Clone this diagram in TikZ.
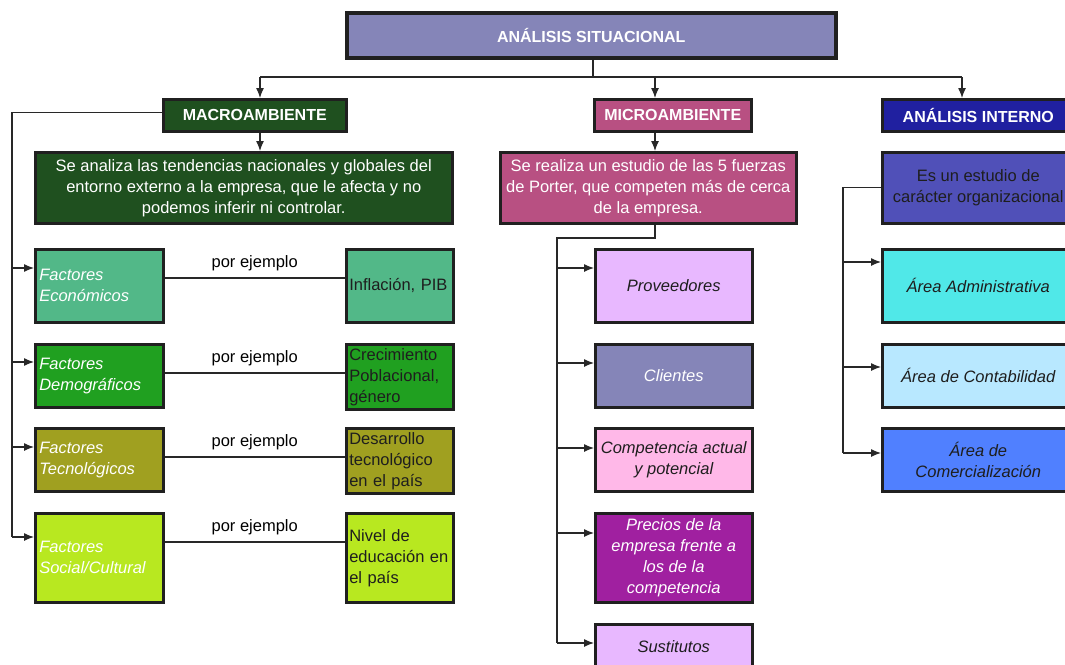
\documentclass[tikz,border=0pt]{standalone}
\usepackage{fontspec}
\setmainfont{Liberation Sans}
\usetikzlibrary{arrows.meta}
\definecolor{cEdge}{RGB}{32,32,32}
\definecolor{cLine}{RGB}{40,40,40}
\definecolor{cDark}{RGB}{30,30,30}
\definecolor{cTitle}{RGB}{133,133,184}
\definecolor{cMacro}{RGB}{31,80,31}
\definecolor{cMicro}{RGB}{184,80,130}
\definecolor{cInt}{RGB}{32,32,160}
\definecolor{cIdesc}{RGB}{80,80,184}
\definecolor{cEco}{RGB}{82,184,136}
\definecolor{cDem}{RGB}{32,160,32}
\definecolor{cTec}{RGB}{160,160,32}
\definecolor{cSoc}{RGB}{184,232,32}
\definecolor{cProv}{RGB}{232,184,255}
\definecolor{cComp}{RGB}{255,184,232}
\definecolor{cPrec}{RGB}{160,32,160}
\definecolor{cAdm}{RGB}{80,232,232}
\definecolor{cCont}{RGB}{184,232,255}
\definecolor{cComer}{RGB}{80,128,255}
\begin{document}
\begin{tikzpicture}[x=1pt,y=-1pt,>={Latex[length=10pt,width=8pt]},
  txt/.style={font=\fontsize{16.5}{21}\selectfont},
  box/.style={draw=cEdge,line width=2.5pt,inner sep=4pt,anchor=north west,txt},
  head/.style={box,text=white,font=\bfseries\fontsize{16}{21}\selectfont},
  it/.style={font=\itshape\fontsize{16.5}{21}\selectfont},
  fac/.style={box,it,text=white,text width=120pt,align=left},
  ej/.style={box,text=cDark,inner xsep=3pt,text width=101pt,align=left},
  conn/.style={draw=cLine,line width=1.2pt},
  arr/.style={conn,->}]
\useasboundingbox (0,0) rectangle (1065,664);

\node[head,fill=cTitle,line width=3.5pt,minimum width=489pt,minimum height=45pt] (sit) at (345,11) {ANÁLISIS SITUACIONAL};
\node[head,fill=cMacro,minimum width=183pt,minimum height=32pt] (macro) at (162,98) {MACROAMBIENTE};
\node[head,fill=cMicro,minimum width=157pt,minimum height=32pt] (micro) at (593,98) {MICROAMBIENTE};
\node[head,fill=cInt,minimum width=192pt,minimum height=32pt] (interno) at (881,98) {ANÁLISIS INTERNO};

\node[box,fill=cMacro,text=white,minimum width=417pt,minimum height=71pt,align=center] (mdesc) at (34,151)
  {Se analiza las tendencias nacionales y globales del\\entorno externo a la empresa, que le afecta y no\\podemos inferir ni controlar.};
\node[box,fill=cMicro,text=white,minimum width=296pt,minimum height=71pt,align=center] (cdesc) at (499,151)
  {Se realiza un estudio de las 5 fuerzas\\de Porter, que competen más de cerca\\de la empresa.};
\node[box,fill=cIdesc,text=cDark,minimum width=192pt,minimum height=71pt,align=center] (idesc) at (881,151)
  {Es un estudio de\\carácter organizacional};

% macroambiente
\node[fac,fill=cEco,minimum height=73pt] (feco) at (34,248) {Factores\\Económicos};
\node[fac,fill=cDem,minimum height=63pt] (fdem) at (34,343) {Factores\\Demográficos};
\node[fac,fill=cTec,minimum height=63pt] (ftec) at (34,427) {Factores\\Tecnológicos};
\node[fac,fill=cSoc,minimum height=89pt] (fsoc) at (34,512) {Factores\\Social/Cultural};
\node[ej,fill=cEco,minimum height=73pt] (xeco) at (345,248) {Inflación, PIB};
\node[ej,fill=cDem,minimum height=63pt] (xdem) at (345,343) {Crecimiento\\Poblacional,\\género};
\node[ej,fill=cTec,minimum height=63pt] (xtec) at (345,427) {Desarrollo\\tecnológico\\en el país};
\node[ej,fill=cSoc,minimum height=89pt] (xsoc) at (345,512) {Nivel de\\educación en\\el país};

% microambiente
\node[box,it,fill=cProv,text=cDark,minimum width=157pt,minimum height=73pt] (prov) at (594,248) {Proveedores};
\node[box,it,fill=cTitle,text=white,minimum width=157pt,minimum height=63pt] (clien) at (594,343) {Clientes};
\node[box,it,fill=cComp,text=cDark,minimum width=157pt,minimum height=63pt,align=center] (comp) at (594,427) {Competencia actual\\y potencial};
\node[box,it,fill=cPrec,text=white,minimum width=157pt,minimum height=89pt,align=center] (prec) at (594,512) {Precios de la\\empresa frente a\\los de la\\competencia};
\node[box,it,fill=cProv,text=cDark,minimum width=157pt,minimum height=44pt] (sust) at (594,623) {Sustitutos};

% analisis interno
\node[box,it,fill=cAdm,text=cDark,minimum width=192pt,minimum height=73pt] (adm) at (881,248) {Área Administrativa};
\node[box,it,fill=cCont,text=cDark,minimum width=192pt,minimum height=63pt] (cont) at (881,343) {Área de Contabilidad};
\node[box,it,fill=cComer,text=cDark,minimum width=192pt,minimum height=63pt,align=center] (comer) at (881,427) {Área de\\Comercialización};

% connectors
\coordinate (j) at (593,77);
\coordinate (jl) at (260,77);
\coordinate (jc) at (655,77);
\coordinate (jr) at (962,77);
\draw[conn] (sit.south -| j) -- (j);
\draw[conn] (jl) -- (jr);
\draw[arr] (jl) -- (jl |- macro.north);
\draw[arr] (jc) -- (jc |- micro.north);
\draw[arr] (jr) -- (jr |- interno.north);
\draw[arr] (macro.south -| jl) -- (mdesc.north -| jl);
\draw[arr] (micro.south -| jc) -- (cdesc.north -| jc);

\coordinate (mb) at (12,111);
\coordinate (aeco) at ([yshift=-20pt]feco.north west);
\coordinate (adem) at ([yshift=-19pt]fdem.north west);
\coordinate (atec) at ([yshift=-20pt]ftec.north west);
\coordinate (asoc) at ([yshift=-25pt]fsoc.north west);
\draw[conn] ([yshift=3pt]macro.west) -| (mb |- asoc);
\draw[arr] (mb |- aeco) -- (aeco);
\draw[arr] (mb |- adem) -- (adem);
\draw[arr] (mb |- atec) -- (atec);
\draw[arr] (mb |- asoc) -- (asoc);

\draw[conn] ([yshift=-30pt]feco.north east) -- ([yshift=-30pt]xeco.north west) node[txt,midway,above=3pt] (pe1) {por ejemplo};
\draw[conn] ([yshift=-30pt]fdem.north east) -- ([yshift=-30pt]xdem.north west) node[txt,midway,above=3pt] (pe2) {por ejemplo};
\draw[conn] ([yshift=-30pt]ftec.north east) -- ([yshift=-30pt]xtec.north west) node[txt,midway,above=3pt] (pe3) {por ejemplo};
\draw[conn] ([yshift=-30pt]fsoc.north east) -- ([yshift=-30pt]xsoc.north west) node[txt,midway,above=3pt] (pe4) {por ejemplo};

\coordinate (cb) at (557,238);
\coordinate (aprov) at ([yshift=-20pt]prov.north west);
\coordinate (aclien) at ([yshift=-20pt]clien.north west);
\coordinate (acomp) at ([yshift=-21pt]comp.north west);
\coordinate (aprec) at ([yshift=-21pt]prec.north west);
\coordinate (asust) at ([yshift=-20pt]sust.north west);
\draw[conn] (cdesc.south -| jc) |- (cb) -- (cb |- asust);
\draw[arr] (cb |- aprov) -- (aprov);
\draw[arr] (cb |- aclien) -- (aclien);
\draw[arr] (cb |- acomp) -- (acomp);
\draw[arr] (cb |- aprec) -- (aprec);
\draw[arr] (cb |- asust) -- (asust);

\coordinate (ib) at (843,186);
\coordinate (aadm) at ([yshift=-14pt]adm.north west);
\coordinate (acont) at ([yshift=-24pt]cont.north west);
\coordinate (acomer) at ([yshift=-26pt]comer.north west);
\draw[conn] (idesc.west) -| (ib |- acomer);
\draw[arr] (ib |- aadm) -- (aadm);
\draw[arr] (ib |- acont) -- (acont);
\draw[arr] (ib |- acomer) -- (acomer);
\end{tikzpicture}
\end{document}
